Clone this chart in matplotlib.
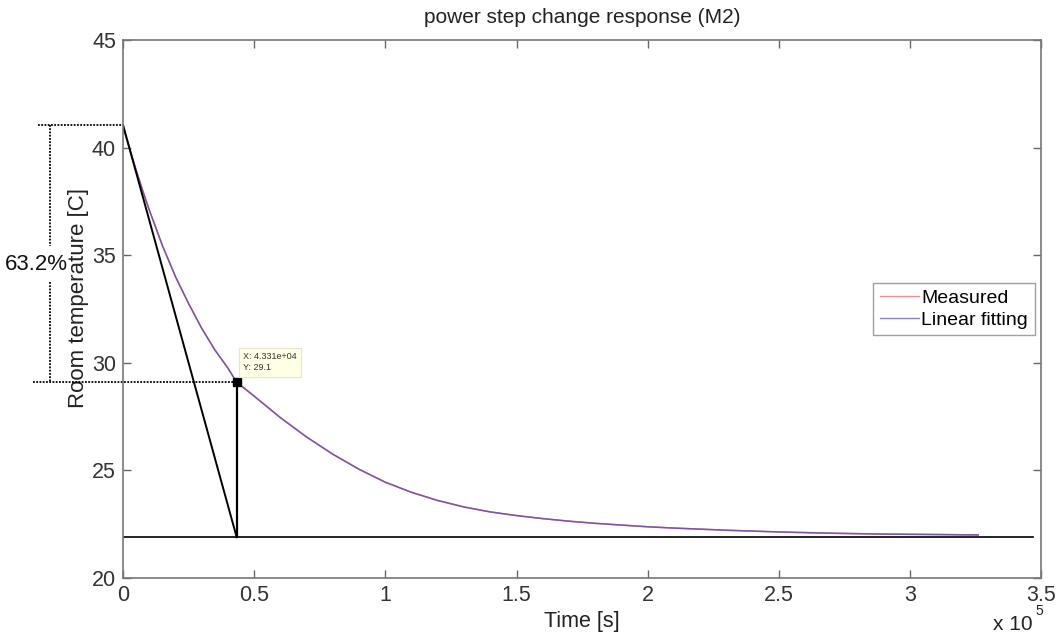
import numpy as np
import matplotlib.pyplot as plt

plt.rcParams['font.family'] = ['Liberation Sans', 'DejaVu Sans']

# measured / fitted room temperature (time in seconds)
time_s = [0, 2500, 5000, 7500, 10000, 15000, 20000, 25000, 30000, 35000,
          40000, 43310, 50000, 60000, 70000, 80000, 90000, 100000, 110000,
          120000, 130000, 140000, 150000, 160000, 170000, 180000, 190000,
          200000, 210000, 220000, 230000, 250000, 270000, 290000, 310000,
          326000]
temp_meas = [41.0, 39.95, 38.95, 38.0, 37.1, 35.45, 34.0, 32.75, 31.6, 30.6,
             29.75, 29.1, 28.45, 27.45, 26.55, 25.75, 25.05, 24.45, 23.98,
             23.6, 23.3, 23.07, 22.9, 22.76, 22.64, 22.54, 22.46, 22.38,
             22.32, 22.27, 22.22, 22.14, 22.08, 22.04, 22.02, 22.0]
temp_fit = temp_meas

tau = 43310       # datatip X
t_tau = 29.1      # datatip Y
t_start = 41.05
t_final = 21.9
t_end_line = 347000

xticks = [0, 0.5, 1, 1.5, 2, 2.5, 3, 3.5]
yticks = [20, 25, 30, 35, 40, 45]

scale = 1e5
fig = plt.figure(figsize=(10.57, 6.36), dpi=100)
ax = fig.add_axes([0.1164, 0.0912, 0.8686, 0.8459])

t = np.array(time_s) / scale
ax.plot(t, temp_meas, '-', color='#e06070', lw=1.1, label='Measured')
ax.plot(t, temp_fit, '-', color='#5050c0', lw=1.1, alpha=0.7, label='Linear fitting')

# tangent, baseline and tau line
ax.plot([0, tau / scale], [t_start, t_final], '-', color='black', lw=1.4)
ax.plot([0, t_end_line / scale], [t_final, t_final], '-', color='black', lw=1.2)
ax.plot([tau / scale, tau / scale], [t_final, t_tau], '-', color='black', lw=1.6)
ax.plot([tau / scale], [t_tau], 's', color='black', ms=6)

# datatip
ax.text(tau / scale + 0.025, t_tau + 0.45, 'X: 4.331e+04\nY: 29.1', fontsize=6.5,
        color='#333333', va='bottom', ha='left', linespacing=1.4,
        bbox=dict(boxstyle='square,pad=0.45', fc='#ffffe6', ec='#e8e8c8', lw=0.8))

# 63.2% marker outside the axes
dot = (0, (1, 0.8))
ax.plot([-0.325, 0], [t_start, t_start], color='black', ls=dot, lw=1.3, clip_on=False)
ax.plot([-0.343, tau / scale], [t_tau, t_tau], color='black', ls=dot, lw=1.3, clip_on=False)
ax.plot([-0.278, -0.278], [t_start, 35.45], color='black', ls=dot, lw=1.3, clip_on=False)
ax.plot([-0.278, -0.278], [33.75, t_tau], color='black', ls=dot, lw=1.3, clip_on=False)
ax.text(-0.33, 34.55, '63.2%', fontsize=16, ha='center', va='center', color='#111111')

ax.set_xlim(0, 3.5)
ax.set_ylim(20, 45)
ax.set_xticks(xticks)
ax.set_xticklabels(['0', '0.5', '1', '1.5', '2', '2.5', '3', '3.5'])
ax.set_yticks(yticks)
ax.tick_params(direction='in', length=6, width=1, top=True, right=True,
               labelsize=15.5, colors='#666666', labelcolor='#333333', pad=5)
for s in ax.spines.values():
    s.set_color('#777777')
    s.set_linewidth(1.2)

ax.set_title('power step change response (M2)', fontsize=15, color='#222222', pad=12)
ax.set_xlabel('Time [s]', fontsize=15.5, color='#222222')
ax.set_ylabel('Room temperature [C]', fontsize=16, color='#222222')
ax.xaxis.set_label_coords(0.5, -0.061)
ax.yaxis.set_label_coords(-0.037, 0.52)
fig.text(0.9395, 0.0173, 'x 10', fontsize=15, color='#222222', ha='left', va='center')
fig.text(0.9795, 0.039, '5', fontsize=10, color='#222222', ha='left', va='center')

leg = ax.legend(loc='center right', bbox_to_anchor=(0.997, 0.50), fontsize=14,
                frameon=True, fancybox=False, handlelength=2.0, handletextpad=0.1,
                borderpad=0.35, labelspacing=0.2, borderaxespad=0.2)
leg.get_frame().set_edgecolor('#888888')
leg.get_frame().set_linewidth(1.0)
for line in leg.get_lines():
    line.set_alpha(0.7)
    line.set_linewidth(1.0)

plt.savefig('out.png', dpi=100)
